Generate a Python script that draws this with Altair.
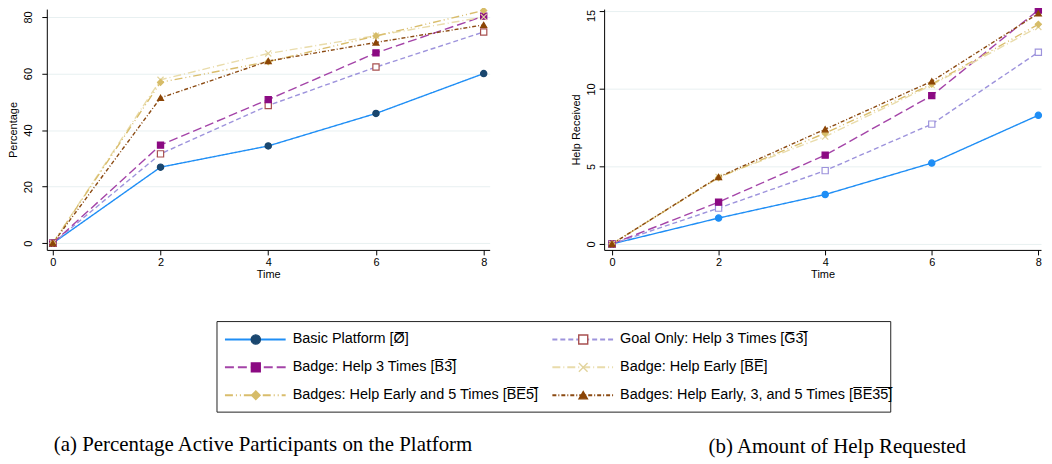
import altair as alt
import pandas as pd

# ---------------- data ----------------
time = [0, 2, 4, 6, 8]
series = [
    "Basic Platform",
    "Goal Only: Help 3 Times",
    "Badge: Help 3 Times",
    "Badge: Help Early",
    "Badges: Help Early and 5 Times",
    "Badges: Help Early, 3, and 5 Times",
]
legend_labels = [
    "Basic Platform [\u00d8\u0305]",
    "Goal Only: Help 3 Times [G\u03053\u0305]",
    "Badge: Help 3 Times [B\u03053\u0305]",
    "Badge: Help Early [B\u0305E\u0305]",
    "Badges: Help Early and 5 Times [B\u0305E\u03055\u0305]",
    "Badges: Help Early, 3, and 5 Times [B\u0305E\u03053\u03055\u0305]",
]
legend_col = [0, 1, 0, 1, 0, 1]
legend_row = [0, 0, 1, 1, 2, 2]

pct_basic = [0, 26.9, 34.4, 45.9, 60.0]
pct_g3 = [0, 31.6, 48.7, 62.3, 74.7]
pct_b3 = [0, 34.7, 50.8, 67.3, 80.3]
pct_be = [0, 57.8, 67.1, 73.4, 80.0]
pct_be5 = [0, 56.9, 64.2, 73.3, 82.3]
pct_be35 = [0, 51.4, 64.4, 71.0, 77.2]

help_basic = [0, 1.67, 3.19, 5.22, 8.30]
help_g3 = [0, 2.31, 4.73, 7.73, 12.37]
help_b3 = [0, 2.70, 5.73, 9.57, 15.09]
help_be = [0, 4.32, 6.93, 10.25, 14.00]
help_be5 = [0, 4.28, 7.15, 10.31, 14.17]
help_be35 = [0, 4.32, 7.40, 10.49, 14.87]

pct_ticks = [0, 20, 40, 60, 80]
help_ticks = [0, 5, 10, 15]

# ---------------- styles ----------------
line_colors = ["#1f8ef5", "#9d93dc", "#a444a8", "#e9dcab", "#d9bd6c", "#8b4a12"]
dashes = [[1, 0], [5, 3], [9, 4], [8, 3, 1, 3], [8, 3, 1, 3, 1, 3], [4, 2, 1, 2]]
X_PATH = "M-1,-1L1,1M-1,1L1,-1"
shapes = ["circle", "square", "square", X_PATH, "diamond", "triangle-up"]
fills_left = ["#1a476f", "white", "#8b0a82", "transparent", "#d6bc68", "#8b4506"]
strokes_left = ["#1a476f", "#a85050", "#8b0a82", "#e2d49e", "#d6bc68", "#8b4506"]
fills_right = ["#1f8ef5", "white", "#8b0a82", "transparent", "#d6bc68", "#8b4506"]
strokes_right = ["#1f8ef5", "#9d93dc", "#8b0a82", "#e2d49e", "#d6bc68", "#8b4506"]
sizes_plot = [40, 36, 50, 36, 60, 50]
sizes_legend = [85, 70, 95, 70, 140, 115]

FONT = "Liberation Sans"
IND = dict(x="independent", y="independent", size="independent")
ALL_IND = dict(color="independent", stroke="independent", fill="independent",
               size="independent", shape="independent", strokeDash="independent")


def long_df(values):
    rows = []
    for k, (name, vals) in enumerate(zip(series, values)):
        for t, v in zip(time, vals):
            rows.append({"series": name, "k": k, "time": t, "value": v})
    return pd.DataFrame(rows)


def sc(rng):
    return alt.Scale(domain=series, range=rng)


def plot_layer(df, xdom, ydom, yticks, ytitle, fills, strokes, label_pad, title_pad,
               top_tick, top_shift):
    base = alt.Chart(df)
    x = alt.X(
        "time:Q",
        scale=alt.Scale(domain=xdom, nice=False, zero=False),
        axis=alt.Axis(values=time, title="Time", grid=False, format="d",
                      labelPadding=2, titlePadding=1, tickSize=5),
    )
    y = alt.Y(
        "value:Q",
        scale=alt.Scale(domain=ydom, nice=False, zero=False),
        axis=alt.Axis(values=yticks, title=ytitle, grid=True, labelAngle=-90,
                      labelAlign="center", labelBaseline="bottom", format="d",
                      labelOffset=alt.expr(f"datum.value == {top_tick} ? {top_shift} : 0"),
                      labelPadding=label_pad, titlePadding=title_pad, tickSize=5),
    )
    lines = base.mark_line(strokeWidth=1.4, clip=False).encode(
        x=x, y=y,
        color=alt.Color("series:N", scale=sc(line_colors), legend=None),
        strokeDash=alt.StrokeDash("series:N", scale=sc(dashes), legend=None),
        detail="k:N",
    )
    pts = base.mark_point(opacity=1, strokeWidth=1.2, clip=False).encode(
        x=x, y=y,
        shape=alt.Shape("series:N", scale=sc(shapes), legend=None),
        fill=alt.Fill("series:N", scale=sc(fills), legend=None),
        stroke=alt.Stroke("series:N", scale=sc(strokes), legend=None),
        size=alt.Size("series:N", scale=sc(sizes_plot), legend=None),
        order="k:Q",
    )
    return alt.layer(lines, pts)


def caption_title(text, dx, offset):
    return alt.TitleParams(text, orient="bottom", anchor="start", frame="group", dx=dx,
                           offset=offset, font="Liberation Serif", fontSize=21,
                           fontWeight="normal", color="black")


# ---------------- legend (drawn below the left panel) ----------------
leg_df = pd.DataFrame({"series": series, "label": legend_labels,
                       "col": legend_col, "row": legend_row})
lx = alt.X("col:Q", scale=alt.Scale(domain=[0, 1], range=[179, 508]), axis=None)
ly = alt.Y("row:Q", scale=alt.Scale(domain=[0, 2], range=[332, 388]), axis=None)
lbase = alt.Chart(leg_df)
leg_box = alt.Chart(pd.DataFrame({"a": [0]})).mark_rect(
    fillOpacity=0, stroke="#222222", strokeWidth=1).encode(
    x=alt.value(171), x2=alt.value(848), y=alt.value(314), y2=alt.value(405))
leg_lines = lbase.mark_rule(strokeWidth=2, x2Offset=61).encode(
    x=lx, x2="col:Q", y=ly,
    color=alt.Color("series:N", scale=sc(line_colors), legend=None),
    strokeDash=alt.StrokeDash("series:N", scale=sc(dashes), legend=None),
)
leg_pts = lbase.mark_point(opacity=1, strokeWidth=1.4, xOffset=31).encode(
    x=lx, y=ly,
    shape=alt.Shape("series:N", scale=sc(shapes), legend=None),
    fill=alt.Fill("series:N", scale=sc(fills_left), legend=None),
    stroke=alt.Stroke("series:N", scale=sc(strokes_left), legend=None),
    size=alt.Size("series:N", scale=sc(sizes_legend), legend=None),
)
leg_text = lbase.mark_text(align="left", baseline="middle", xOffset=68, font=FONT,
                           fontSize=14.5, color="black").encode(x=lx, y=ly, text="label:N")
legend_layer = alt.layer(leg_box, leg_lines, leg_pts, leg_text)

left_main = plot_layer(long_df([pct_basic, pct_g3, pct_b3, pct_be, pct_be5, pct_be35]),
                       [-0.111, 8.111], [-2.36, 82.8], pct_ticks, "Percentage",
                       fills_left, strokes_left, 8, 4, 80, 0)
left = alt.layer(left_main, legend_layer).resolve_scale(**IND).properties(
    width=445, height=242,
    title=caption_title("(a) Percentage Active Participants on the Platform", 7, 22),
)

right = plot_layer(long_df([help_basic, help_g3, help_b3, help_be, help_be5, help_be35]),
                   [-0.148, 8.05], [-0.385, 15.15], help_ticks, "Help Received",
                   fills_right, strokes_right, 3, 4, 15, 4).properties(
    width=439, height=242,
    title=caption_title("(b) Amount of Help Requested", 105, 157),
)

chart = alt.hconcat(left, right, spacing=115, bounds="flush").resolve_scale(
    **ALL_IND
).properties(
    padding={"left": 0, "top": -5, "right": 0, "bottom": 0}, background="white"
).configure_view(stroke=None).configure_axis(
    labelFont=FONT, titleFont=FONT, labelFontSize=11, titleFontSize=11,
    titleFontWeight="normal", labelColor="black", titleColor="black",
    domainColor="black", tickColor="black", gridColor="#e8f0f1", gridWidth=1,
    domainWidth=1, tickWidth=1,
)

chart.save("out.html", embed_options={"renderer": "svg", "actions": False})
